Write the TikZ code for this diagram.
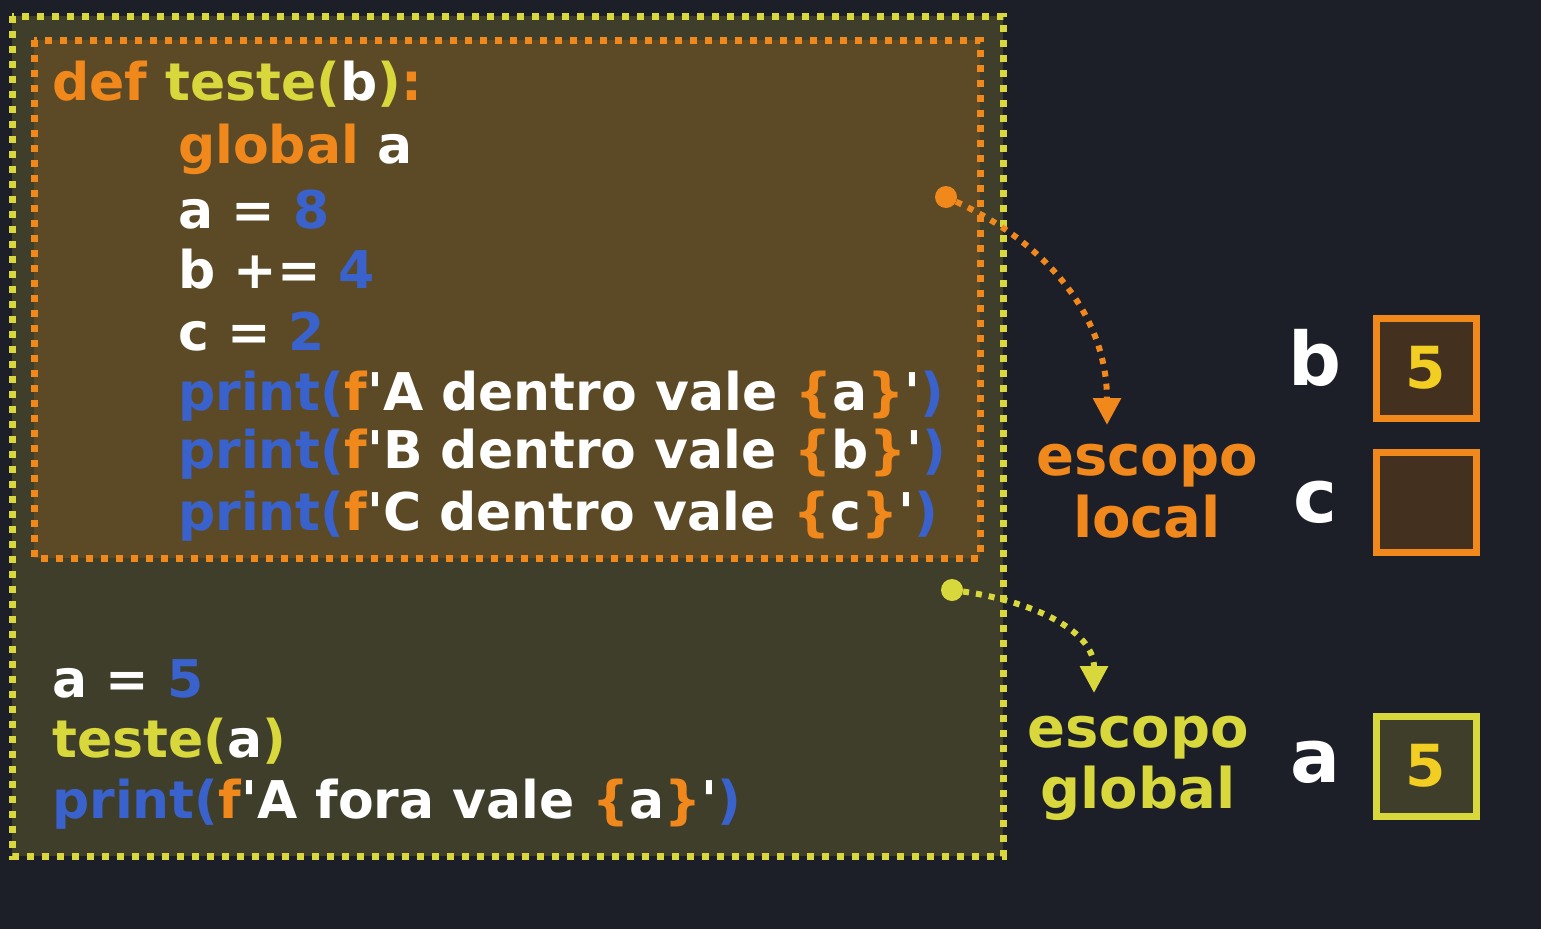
\documentclass[tikz,border=0pt]{standalone}
\usepackage{fontspec}
\setmainfont{DejaVu Sans}
\usetikzlibrary{arrows.meta,positioning}
\definecolor{bgnavy}{HTML}{1C1E28}
\definecolor{globfill}{HTML}{3F3E2B}
\definecolor{locfill}{HTML}{5C4A26}
\definecolor{kworange}{HTML}{F0881C}
\definecolor{fnyellow}{HTML}{D8D83C}
\definecolor{numblue}{HTML}{3A62CC}
\definecolor{valyellow}{HTML}{F2CE22}
\definecolor{boxfill}{HTML}{43301F}
\newcommand{\kw}[1]{\textcolor{kworange}{#1}}
\newcommand{\fn}[1]{\textcolor{fnyellow}{#1}}
\newcommand{\nm}[1]{\textcolor{numblue}{#1}}
\newcommand{\qt}{\textquotesingle}

\begin{document}
\begin{tikzpicture}[x=1pt,y=-1pt,
    codeline/.style={anchor=base west, inner sep=0pt, text=white,
        font=\fontsize{52}{58}\selectfont\bfseries},
    scopelabel/.style={anchor=base, inner sep=0pt,
        font=\fontsize{56}{62}\selectfont\bfseries},
    varname/.style={anchor=base, inner sep=0pt, text=white,
        font=\fontsize{74}{80}\selectfont\bfseries},
    valbox/.style={draw, line width=7pt, minimum size=100pt, inner sep=0pt,
        text=valyellow, font=\fontsize{58}{64}\selectfont\bfseries},
    dotborder/.style={line width=7pt, dash pattern=on 7pt off 8pt},
    dotarrow/.style={line width=6pt, dash pattern=on 6pt off 7pt,
        -{Triangle[length=27pt,width=27pt]}},
    startdot/.style={circle, minimum size=22pt, inner sep=0pt}]
    % background and margins
    \fill[bgnavy] (0,0) rectangle (1541,929);
    \useasboundingbox (0,0) rectangle (1541,929);

    % the two scopes
    \fill[globfill] (12,16) rectangle (1003,856);
    \draw[dotborder, fnyellow] (12,16) rectangle (1003,856);
    \fill[locfill] (34,40) rectangle (980,558);
    \draw[dotborder, kworange] (34,40) rectangle (980,558);

    % the function
    \node[codeline] (l1) at (52,100) {\kw{def} \fn{teste(}b\fn{)}\kw{:}};
    \node[codeline] (l2) at (178,163) {\kw{global} a};
    \node[codeline] (l3) at (178,228) {a = \nm{8}};
    \node[codeline] (l4) at (178,288) {b += \nm{4}};
    \node[codeline] (l5) at (178,350) {c = \nm{2}};
    \node[codeline] (l6) at (178,410) {\nm{print(}\kw{f}\qt A dentro vale \kw{\{}a\kw{\}}\qt\nm{)}};
    \node[codeline] (l7) at (178,468) {\nm{print(}\kw{f}\qt B dentro vale \kw{\{}b\kw{\}}\qt\nm{)}};
    \node[codeline] (l8) at (178,530) {\nm{print(}\kw{f}\qt C dentro vale \kw{\{}c\kw{\}}\qt\nm{)}};

    % the main program
    \node[codeline] (m1) at (52,697) {a = \nm{5}};
    \node[codeline] (m2) at (52,757) {\fn{teste(}a\fn{)}};
    \node[codeline] (m3) at (52,818) {\nm{print(}\kw{f}\qt A fora vale \kw{\{}a\kw{\}}\qt\nm{)}};

    % scope labels
    \node[scopelabel, text=kworange] (loc1) at (1147,475) {escopo};
    \node[scopelabel, text=kworange] (loc2) at (1147,537) {local};
    \node[scopelabel, text=fnyellow] (glo1) at (1138,747) {escopo};
    \node[scopelabel, text=fnyellow] (glo2) at (1138,808) {global};

    % variables and their values
    \node[varname] (vb) at (1315,385) {b};
    \node[varname] (vc) at (1315,522) {c};
    \node[varname] (va) at (1315,782) {a};
    \node[valbox, draw=kworange, fill=boxfill] (boxb) at (1426,368) {5};
    \node[valbox, draw=kworange, fill=boxfill] (boxc) at (1426,502) {};
    \node[valbox, draw=fnyellow, fill=globfill] (boxa) at (1426,766) {5};

    % arrows from the scopes to their labels
    \node[startdot, fill=kworange] (ldot) at (946,197) {};
    \node[startdot, fill=fnyellow] (gdot) at (952,590) {};
    \coordinate (loctip) at (1107,425);
    \coordinate (glotip) at (1094,693);
    \draw[dotarrow, kworange] (ldot) to[out=-25,in=90] (loctip);
    \draw[dotarrow, fnyellow] (gdot) to[out=-8,in=90] (glotip);
\end{tikzpicture}
\end{document}
